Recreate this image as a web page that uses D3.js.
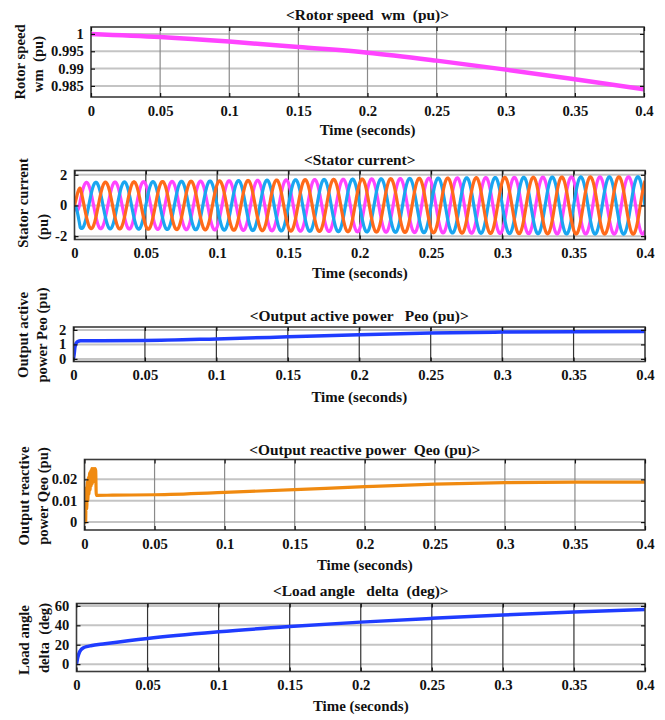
<!DOCTYPE html>
<html lang="en">
<head>
<meta charset="UTF-8">
<title>Machine response</title>
<script src="https://d3js.org/d3.v7.min.js"></script>
<style>
  body { margin: 0; background: #fff; }
  svg text { font-family: "Liberation Serif", "Times New Roman", serif; font-weight: bold; fill: #111; }
  .tick text { font-size: 14px; }
  .title, .xlab, .ylab { font-size: 14px; white-space: pre; }
</style>
</head>
<body>
<div class="main"></div>
<script>
  // shared time axis
  let timeTicks = [0, 0.05, 0.1, 0.15, 0.2, 0.25, 0.3, 0.35, 0.4];

  // rotor speed wm (pu)
  let speedTime = [0, 0.05, 0.1, 0.15, 0.2, 0.25, 0.3, 0.35, 0.4];
  let speedValues = [1.0, 0.9991, 0.9978, 0.9962, 0.9946, 0.9923, 0.9897, 0.9869, 0.9840];
  let speedTicks = [0.985, 0.99, 0.995, 1];

  // stator current: crest value of the three phases read along the time axis
  let currentTime = [0, 0.004, 0.05, 0.1, 0.15, 0.2, 0.25, 0.3, 0.35, 0.4];
  let currentPeak = [0, 1.5, 1.55, 1.6, 1.67, 1.72, 1.78, 1.83, 1.86, 1.87];
  let phaseNames = ["ia", "ib", "ic"];
  let phaseCrestAt = [0.0084, 0.0150, 0.0017];   // first crest of each phase (s)
  let currentFreq = 50;                           // Hz
  let currentTicks = [-2, 0, 2];

  // output active power Peo (pu)
  let peTime = [0, 0.0005, 0.001, 0.0015, 0.002, 0.003, 0.005, 0.05, 0.1, 0.15, 0.2, 0.25, 0.3, 0.35, 0.4];
  let peValues = [0, 0.35, 0.8, 1.0, 1.1, 1.2, 1.25, 1.27, 1.38, 1.52, 1.66, 1.78, 1.85, 1.88, 1.89];
  let peTicks = [0, 1, 2];

  // output reactive power Qeo (pu)
  let qeTime = [0, 0.0008, 0.0012, 0.0016, 0.002, 0.0024, 0.0028, 0.0032, 0.0036, 0.004, 0.0044, 0.0048,
                0.0052, 0.0056, 0.006, 0.0064, 0.0068, 0.0072, 0.0076, 0.008, 0.0084, 0.009, 0.02,
                0.05, 0.1, 0.15, 0.2, 0.25, 0.3, 0.35, 0.4];
  let qeValues = [0, 0, 0.016, 0.006, 0.019, 0.01, 0.021, 0.013, 0.023, 0.015, 0.024, 0.017,
                  0.025, 0.018, 0.025, 0.019, 0.025, 0.019, 0.025, 0.024, 0.0125, 0.0125, 0.0126,
                  0.0128, 0.0139, 0.0152, 0.0166, 0.0178, 0.0185, 0.0187, 0.0187];
  let qeTicks = [0, 0.01, 0.02];

  // load angle delta (deg)
  let deltaTime = [0, 0.0005, 0.001, 0.002, 0.003, 0.005, 0.007, 0.01, 0.02, 0.05, 0.1, 0.15, 0.2, 0.25, 0.3, 0.35, 0.4];
  let deltaValues = [0, 4, 7.5, 12, 14.5, 17, 18, 19, 21, 26.5, 33.3, 38.7, 43.3, 47.2, 50.7, 53.7, 56.4];
  let deltaTicks = [0, 20, 40, 60];

  // build the three phase traces from the crest envelope
  let crest = d3.scaleLinear().domain(currentTime).range(currentPeak).clamp(true);
  let phaseTraces = phaseNames.map((name, k) =>
    d3.range(0, 0.40001, 0.0001).map(t => ({
      t: t, v: crest(t) * Math.cos(2 * Math.PI * currentFreq * (t - phaseCrestAt[k]))
    })));

  function pairs(ts, vs) { return ts.map((t, i) => ({ t: t, v: vs[i] })); }

  let panels = [
    { title: "<Rotor speed  wm  (pu)>", titleGap: 7.5, ylab: ["Rotor speed", "wm  (pu)"], ylabX: [25, 43], ylabY: [62, 64],
      left: 91, right: 644, top: 27, bottom: 97, yDomain: [0.9818, 1.002], yTicks: speedTicks, vgrid: "#8a8a8a", xlabGap: 38,
      series: [{ data: pairs(speedTime, speedValues), color: "#ff44ff", width: 4.5 }] },
    { title: "<Stator current>", titleGap: 6, ylab: ["Stator current", "(pu)"], ylabX: [28, 48], ylabY: [203, 227],
      left: 74.5, right: 645, top: 170.5, bottom: 239.5, yDomain: [-2.22, 2.28], yTicks: currentTicks, vgrid: "#333", xlabGap: 38,
      series: [
        { data: phaseTraces[0], color: "#ff44ff", width: 3.2 },
        { data: phaseTraces[1], color: "#1aa6f0", width: 3.2 },
        { data: phaseTraces[2], color: "#ff6a1a", width: 3.2 }] },
    { title: "<Output active power   Peo (pu)>", titleGap: 6, ylab: ["Output active", "power Peo (pu)"], ylabX: [28, 47], ylabY: [335, 335],
      left: 73.5, right: 645, top: 327, bottom: 361.5, yDomain: [-0.18, 2.2], yTicks: peTicks, vgrid: "#333", xlabGap: 40,
      series: [{ data: pairs(peTime, peValues), color: "#1f3cff", width: 3.5 }] },
    { title: "<Output reactive power  Qeo (pu)>", titleGap: 4.5, ylab: ["Output reactive", "power Qeo (pu)"], ylabX: [29, 48], ylabY: [496, 496],
      left: 84.5, right: 645, top: 459.5, bottom: 530, yDomain: [-0.0037, 0.0293], yTicks: qeTicks, vgrid: "#8a8a8a", xlabGap: 40,
      series: [{ data: pairs(qeTime, qeValues), color: "#f08a10", width: 3.2 }] },
    { title: "<Load angle   delta  (deg)>", titleGap: 7.5, ylab: ["Load angle", "delta  (deg)"], ylabX: [29, 49], ylabY: [640, 638],
      left: 76.5, right: 645, top: 603.5, bottom: 671.5, yDomain: [-7.6, 62.5], yTicks: deltaTicks, vgrid: "#333", xlabGap: 39,
      series: [{ data: pairs(deltaTime, deltaValues), color: "#1f3cff", width: 3.5 }] }
  ];

  let svg = d3.select(".main").append("svg")
    .attr("width", 665)
    .attr("height", 720)
    .style("display", "block");

  panels.forEach(function (p, idx) {
    let x = d3.scaleLinear().domain([0, 0.4]).range([p.left, p.right]);
    let y = d3.scaleLinear().domain(p.yDomain).range([p.bottom, p.top]);
    let g = svg.append("g");

    // grid
    g.selectAll(".hgrid").data(p.yTicks).join("line")
      .attr("x1", p.left).attr("x2", p.right)
      .attr("y1", d => y(d)).attr("y2", d => y(d))
      .attr("stroke", "#c4c4c4").attr("stroke-width", 2);
    g.selectAll(".vgrid").data(timeTicks.slice(1, -1)).join("line")
      .attr("x1", d => x(d)).attr("x2", d => x(d))
      .attr("y1", p.top).attr("y2", p.bottom)
      .attr("stroke", p.vgrid).attr("stroke-width", 1.2);

    // traces
    let clipId = "clip" + idx;
    g.append("clipPath").attr("id", clipId).append("rect")
      .attr("x", p.left).attr("y", p.top)
      .attr("width", p.right - p.left).attr("height", p.bottom - p.top);
    let line = d3.line().x(d => x(d.t)).y(d => y(d.v)).curve(d3.curveMonotoneX);
    g.append("g").attr("clip-path", `url(#${clipId})`)
      .selectAll("path").data(p.series).join("path")
      .attr("d", s => line(s.data))
      .attr("fill", "none")
      .attr("stroke", s => s.color)
      .attr("stroke-width", s => s.width)
      .attr("stroke-linejoin", "round");

    // frame
    g.append("rect")
      .attr("x", p.left).attr("y", p.top)
      .attr("width", p.right - p.left).attr("height", p.bottom - p.top)
      .attr("fill", "none").attr("stroke", "#3c3c3c").attr("stroke-width", 1.6);

    // axes, ticks pointing inwards on all four sides
    let bottomAxis = g.append("g").attr("transform", `translate(0,${p.bottom})`)
      .call(d3.axisBottom(x).tickValues(timeTicks).tickFormat(d => String(d)).tickSizeInner(-4).tickSizeOuter(0).tickPadding(9));
    let leftAxis = g.append("g").attr("transform", `translate(${p.left},0)`)
      .call(d3.axisLeft(y).tickValues(p.yTicks).tickFormat(d => String(d)).tickSizeInner(-4).tickSizeOuter(0).tickPadding(7));
    g.append("g").attr("transform", `translate(0,${p.top})`)
      .call(d3.axisTop(x).tickValues(timeTicks).tickFormat("").tickSizeInner(-4).tickSizeOuter(0));
    g.append("g").attr("transform", `translate(${p.right},0)`)
      .call(d3.axisRight(y).tickValues(p.yTicks).tickFormat("").tickSizeInner(-4).tickSizeOuter(0));
    g.selectAll(".domain").remove();
    g.selectAll(".tick line").attr("stroke", "#111").attr("stroke-width", 1.2);
    bottomAxis.selectAll("text").attr("transform", "scale(1.05,1)");
    leftAxis.selectAll("text").attr("transform", "scale(1.04,1)");

    // titles and labels
    let cx = (p.left + p.right) / 2;
    g.append("text").attr("class", "title")
      .attr("transform", `translate(${cx},${p.top - p.titleGap}) scale(1.1,1)`)
      .attr("text-anchor", "middle").text(p.title);
    g.append("text").attr("class", "xlab")
      .attr("transform", `translate(${cx},${p.bottom + p.xlabGap}) scale(1.07,1)`)
      .attr("text-anchor", "middle").text("Time (seconds)");
    p.ylab.forEach(function (s, k) {
      g.append("text").attr("class", "ylab")
        .attr("transform", `translate(${p.ylabX[k]},${p.ylabY[k]}) rotate(-90) scale(1.05,1)`)
        .attr("text-anchor", "middle").text(s);
    });
  });
</script>
</body>
</html>
